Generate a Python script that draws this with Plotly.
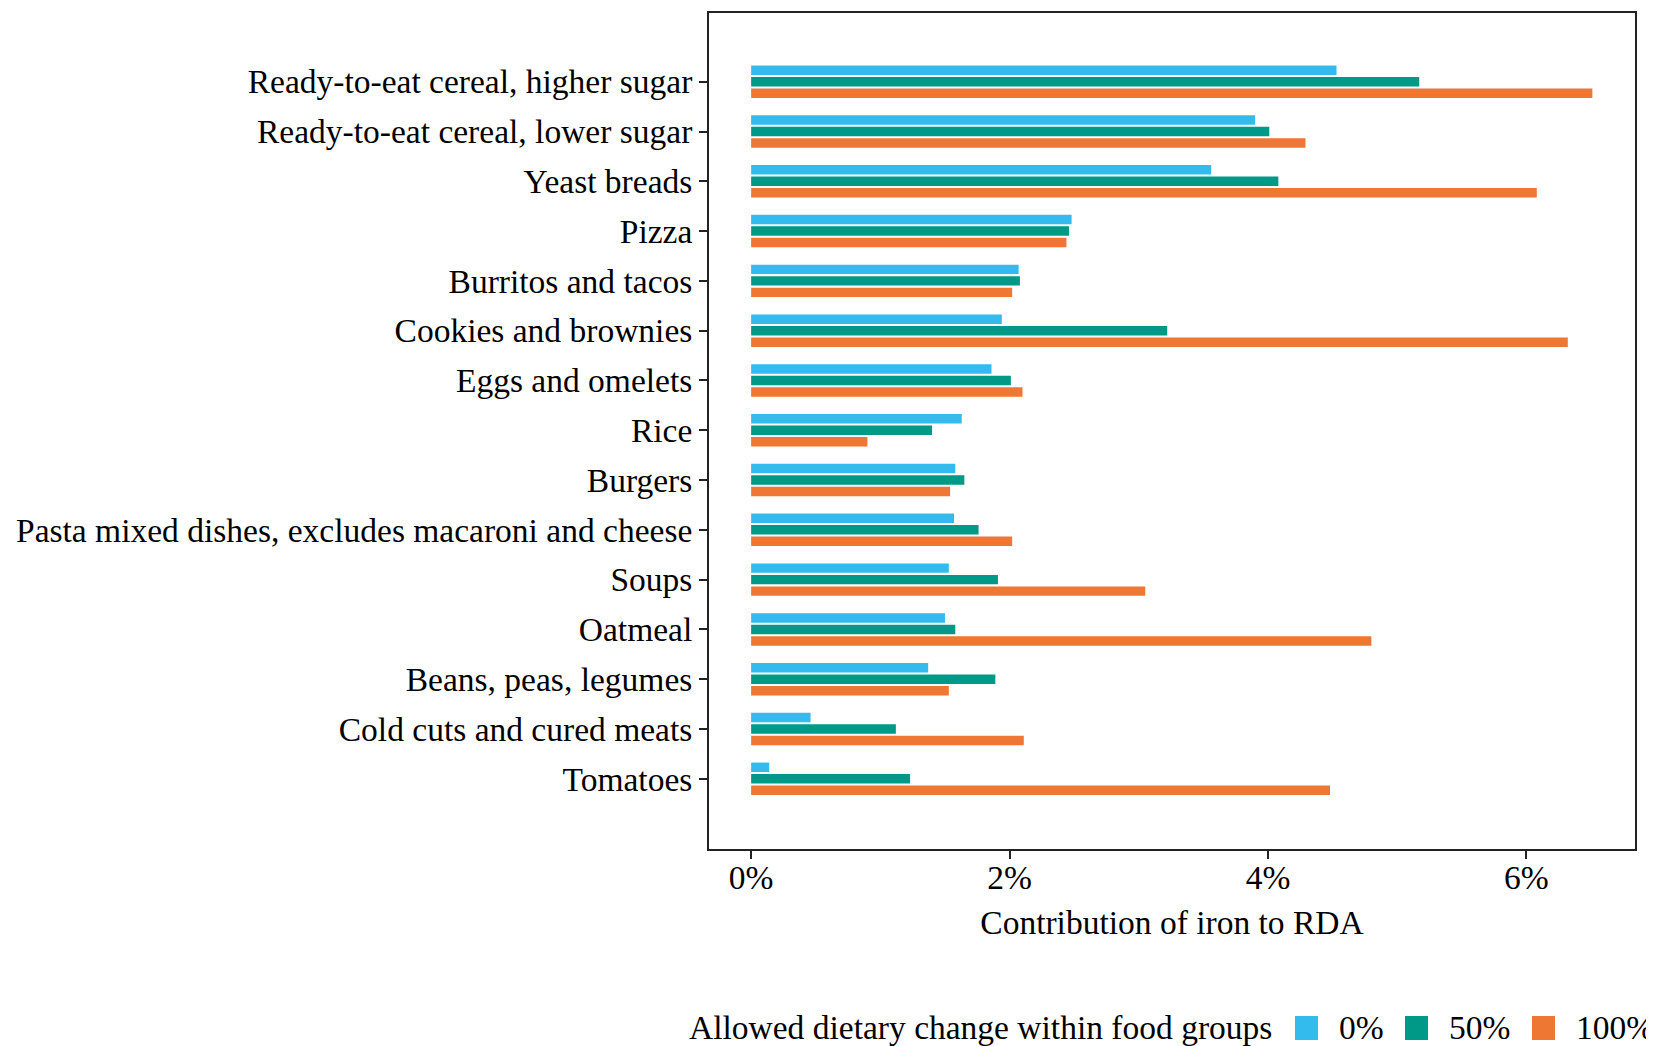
import plotly.graph_objects as go

categories = [
    "Ready-to-eat cereal, higher sugar",
    "Ready-to-eat cereal, lower sugar",
    "Yeast breads",
    "Pizza",
    "Burritos and tacos",
    "Cookies and brownies",
    "Eggs and omelets",
    "Rice",
    "Burgers",
    "Pasta mixed dishes, excludes macaroni and cheese",
    "Soups",
    "Oatmeal",
    "Beans, peas, legumes",
    "Cold cuts and cured meats",
    "Tomatoes",
]
vals_0 = [4.53, 3.90, 3.56, 2.48, 2.07, 1.94, 1.86, 1.63, 1.58, 1.57, 1.53, 1.50, 1.37, 0.46, 0.14]
vals_50 = [5.17, 4.01, 4.08, 2.46, 2.08, 3.22, 2.01, 1.40, 1.65, 1.76, 1.91, 1.58, 1.89, 1.12, 1.23]
vals_100 = [6.51, 4.29, 6.08, 2.44, 2.02, 6.32, 2.10, 0.90, 1.54, 2.02, 3.05, 4.80, 1.53, 2.11, 4.48]
series_names = ["0%", "50%", "100%"]
series_colors = ["#33BBEE", "#009988", "#EE7733"]
x_ticks = [0, 2, 4, 6]
x_tick_labels = ["0%", "2%", "4%", "6%"]
legend_title = "Allowed dietary change within food groups"
x_title = "Contribution of iron to RDA"

W, H = 1654, 1046
L, R, T, B = 701, 1627, 5, 841
FONT = "Liberation Serif, Times New Roman, serif"
FS = 33.5

fig = go.Figure()
for name, vals, col in zip(series_names, [vals_0, vals_50, vals_100], series_colors):
    fig.add_trace(go.Bar(
        y=categories, x=vals, name=name, orientation="h",
        marker=dict(color=col, line=dict(width=0)),
        showlegend=False,
    ))

def px_x(p):
    return (p - L) / (R - L)

def px_y(p):
    return (B - p) / (B - T)

shapes = []
annotations = []
# manual legend
sq_left = [1287, 1397, 1524]
txt_left = [1329, 1439, 1566]
sq_top, sq_bot, mid = 1008, 1032, 1019
for i, (name, col) in enumerate(zip(series_names, series_colors)):
    shapes.append(dict(type="rect", xref="paper", yref="paper",
                       x0=px_x(sq_left[i]), x1=px_x(sq_left[i] + 23),
                       y0=px_y(sq_bot), y1=px_y(sq_top),
                       fillcolor=col, line=dict(width=0)))
    annotations.append(dict(text=name, xref="paper", yref="paper",
                            x=px_x(txt_left[i]), y=px_y(mid),
                            xanchor="left", yanchor="middle", showarrow=False,
                            font=dict(family=FONT, size=FS, color="black")))
annotations.append(dict(text=legend_title, xref="paper", yref="paper",
                        x=px_x(1266), y=px_y(mid),
                        xanchor="right", yanchor="middle", showarrow=False,
                        font=dict(family=FONT, size=FS, color="black")))

fig.update_layout(
    width=W, height=H,
    margin=dict(l=L, r=W - R, t=T, b=H - B, autoexpand=False),
    paper_bgcolor="white", plot_bgcolor="white",
    barmode="group", bargap=0.307, bargroupgap=0.18,
    font=dict(family=FONT, size=FS, color="black"),
    shapes=shapes, annotations=annotations,
    xaxis=dict(
        range=[-0.326, 6.84], tickvals=x_ticks, ticktext=x_tick_labels,
        showgrid=False, zeroline=False,
        showline=True, linecolor="#222", linewidth=2, mirror=True,
        ticks="outside", ticklen=8, tickwidth=2, tickcolor="#222",
        ticklabelstandoff=-10,
        tickfont=dict(family=FONT, size=FS, color="black"),
        title=dict(text=x_title, font=dict(family=FONT, size=FS, color="black"), standoff=15),
    ),
    yaxis=dict(
        type="category", categoryorder="array", categoryarray=categories,
        range=[15.41, -1.38],
        showgrid=False, zeroline=False,
        showline=True, linecolor="#222", linewidth=2, mirror=True,
        ticks="outside", ticklen=8, tickwidth=2, tickcolor="#222",
        tickfont=dict(family=FONT, size=FS, color="black"),
    ),
)

fig.write_html("out.html")
